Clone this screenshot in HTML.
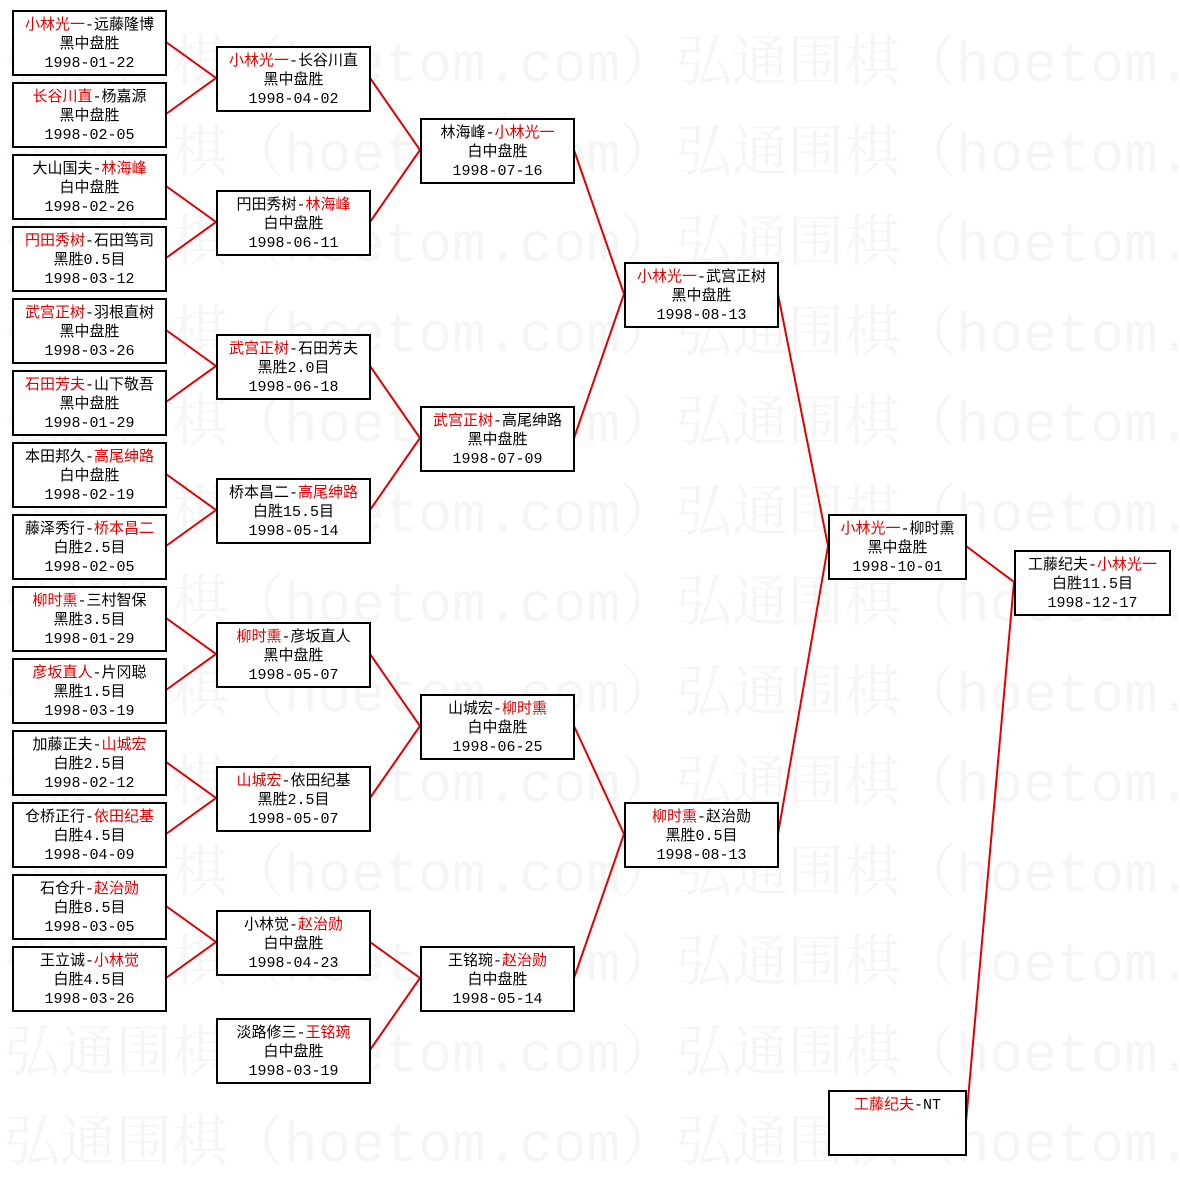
<!DOCTYPE html>
<html><head><meta charset="utf-8"><style>
body{margin:0;width:1180px;height:1165px;background:#fff;position:relative;overflow:hidden;font-family:"Liberation Sans","Noto Sans CJK SC",sans-serif}
.wm{position:absolute;left:4px;font-size:56px;line-height:60px;color:#f5f5f5;white-space:nowrap;font-family:"Liberation Mono","Noto Serif CJK SC",monospace}
.b{position:absolute;border:2px solid #000;background:#fff;box-sizing:border-box;text-align:center;font-size:15px;line-height:19px;padding-top:4px;color:#000;white-space:nowrap;font-family:"Liberation Mono","Noto Sans CJK SC",monospace}
.r{color:#e00000}
svg{position:absolute;left:0;top:0}
</style></head><body>
<div class="wm" style="top:36px">弘通围棋（hoetom.com）弘通围棋（hoetom.com）</div>
<div class="wm" style="top:126px">弘通围棋（hoetom.com）弘通围棋（hoetom.com）</div>
<div class="wm" style="top:216px">弘通围棋（hoetom.com）弘通围棋（hoetom.com）</div>
<div class="wm" style="top:306px">弘通围棋（hoetom.com）弘通围棋（hoetom.com）</div>
<div class="wm" style="top:396px">弘通围棋（hoetom.com）弘通围棋（hoetom.com）</div>
<div class="wm" style="top:486px">弘通围棋（hoetom.com）弘通围棋（hoetom.com）</div>
<div class="wm" style="top:576px">弘通围棋（hoetom.com）弘通围棋（hoetom.com）</div>
<div class="wm" style="top:666px">弘通围棋（hoetom.com）弘通围棋（hoetom.com）</div>
<div class="wm" style="top:756px">弘通围棋（hoetom.com）弘通围棋（hoetom.com）</div>
<div class="wm" style="top:846px">弘通围棋（hoetom.com）弘通围棋（hoetom.com）</div>
<div class="wm" style="top:936px">弘通围棋（hoetom.com）弘通围棋（hoetom.com）</div>
<div class="wm" style="top:1026px">弘通围棋（hoetom.com）弘通围棋（hoetom.com）</div>
<div class="wm" style="top:1116px">弘通围棋（hoetom.com）弘通围棋（hoetom.com）</div>

<svg width="1180" height="1165" stroke="#e00000" stroke-width="2" fill="none">
<path d="M166 42L216 78L166 114M166 186L216 222L166 258M166 330L216 366L166 402M166 474L216 510L166 546M166 618L216 654L166 690M166 762L216 798L166 834M166 906L216 942L166 978"/>
<path d="M370 78L420 150L370 222M370 366L420 438L370 510M370 654L420 726L370 798M370 942L420 978L370 1050"/>
<path d="M574 150L624 294L574 438M574 726L624 834L574 978"/>
<path d="M778 294L828 546L778 834"/>
<path d="M966 546L1014 582L966 1122"/>
</svg>

<div class="b" style="left:12px;top:10px;width:155px;height:66px"><span class="r">小林光一</span>-远藤隆博<br>黑中盘胜<br>1998-01-22</div>
<div class="b" style="left:12px;top:82px;width:155px;height:66px"><span class="r">长谷川直</span>-杨嘉源<br>黑中盘胜<br>1998-02-05</div>
<div class="b" style="left:12px;top:154px;width:155px;height:66px">大山国夫-<span class="r">林海峰</span><br>白中盘胜<br>1998-02-26</div>
<div class="b" style="left:12px;top:226px;width:155px;height:66px"><span class="r">円田秀树</span>-石田笃司<br>黑胜0.5目<br>1998-03-12</div>
<div class="b" style="left:12px;top:298px;width:155px;height:66px"><span class="r">武宫正树</span>-羽根直树<br>黑中盘胜<br>1998-03-26</div>
<div class="b" style="left:12px;top:370px;width:155px;height:66px"><span class="r">石田芳夫</span>-山下敬吾<br>黑中盘胜<br>1998-01-29</div>
<div class="b" style="left:12px;top:442px;width:155px;height:66px">本田邦久-<span class="r">高尾绅路</span><br>白中盘胜<br>1998-02-19</div>
<div class="b" style="left:12px;top:514px;width:155px;height:66px">藤泽秀行-<span class="r">桥本昌二</span><br>白胜2.5目<br>1998-02-05</div>
<div class="b" style="left:12px;top:586px;width:155px;height:66px"><span class="r">柳时熏</span>-三村智保<br>黑胜3.5目<br>1998-01-29</div>
<div class="b" style="left:12px;top:658px;width:155px;height:66px"><span class="r">彦坂直人</span>-片冈聪<br>黑胜1.5目<br>1998-03-19</div>
<div class="b" style="left:12px;top:730px;width:155px;height:66px">加藤正夫-<span class="r">山城宏</span><br>白胜2.5目<br>1998-02-12</div>
<div class="b" style="left:12px;top:802px;width:155px;height:66px">仓桥正行-<span class="r">依田纪基</span><br>白胜4.5目<br>1998-04-09</div>
<div class="b" style="left:12px;top:874px;width:155px;height:66px">石仓升-<span class="r">赵治勋</span><br>白胜8.5目<br>1998-03-05</div>
<div class="b" style="left:12px;top:946px;width:155px;height:66px">王立诚-<span class="r">小林觉</span><br>白胜4.5目<br>1998-03-26</div>

<div class="b" style="left:216px;top:46px;width:155px;height:66px"><span class="r">小林光一</span>-长谷川直<br>黑中盘胜<br>1998-04-02</div>
<div class="b" style="left:216px;top:190px;width:155px;height:66px">円田秀树-<span class="r">林海峰</span><br>白中盘胜<br>1998-06-11</div>
<div class="b" style="left:216px;top:334px;width:155px;height:66px"><span class="r">武宫正树</span>-石田芳夫<br>黑胜2.0目<br>1998-06-18</div>
<div class="b" style="left:216px;top:478px;width:155px;height:66px">桥本昌二-<span class="r">高尾绅路</span><br>白胜15.5目<br>1998-05-14</div>
<div class="b" style="left:216px;top:622px;width:155px;height:66px"><span class="r">柳时熏</span>-彦坂直人<br>黑中盘胜<br>1998-05-07</div>
<div class="b" style="left:216px;top:766px;width:155px;height:66px"><span class="r">山城宏</span>-依田纪基<br>黑胜2.5目<br>1998-05-07</div>
<div class="b" style="left:216px;top:910px;width:155px;height:66px">小林觉-<span class="r">赵治勋</span><br>白中盘胜<br>1998-04-23</div>
<div class="b" style="left:216px;top:1018px;width:155px;height:66px">淡路修三-<span class="r">王铭琬</span><br>白中盘胜<br>1998-03-19</div>

<div class="b" style="left:420px;top:118px;width:155px;height:66px">林海峰-<span class="r">小林光一</span><br>白中盘胜<br>1998-07-16</div>
<div class="b" style="left:420px;top:406px;width:155px;height:66px"><span class="r">武宫正树</span>-高尾绅路<br>黑中盘胜<br>1998-07-09</div>
<div class="b" style="left:420px;top:694px;width:155px;height:66px">山城宏-<span class="r">柳时熏</span><br>白中盘胜<br>1998-06-25</div>
<div class="b" style="left:420px;top:946px;width:155px;height:66px">王铭琬-<span class="r">赵治勋</span><br>白中盘胜<br>1998-05-14</div>

<div class="b" style="left:624px;top:262px;width:155px;height:66px"><span class="r">小林光一</span>-武宫正树<br>黑中盘胜<br>1998-08-13</div>
<div class="b" style="left:624px;top:802px;width:155px;height:66px"><span class="r">柳时熏</span>-赵治勋<br>黑胜0.5目<br>1998-08-13</div>

<div class="b" style="left:828px;top:514px;width:139px;height:66px"><span class="r">小林光一</span>-柳时熏<br>黑中盘胜<br>1998-10-01</div>
<div class="b" style="left:828px;top:1090px;width:139px;height:66px"><span class="r">工藤纪夫</span>-NT</div>

<div class="b" style="left:1014px;top:550px;width:157px;height:66px">工藤纪夫-<span class="r">小林光一</span><br>白胜11.5目<br>1998-12-17</div>
</body></html>
